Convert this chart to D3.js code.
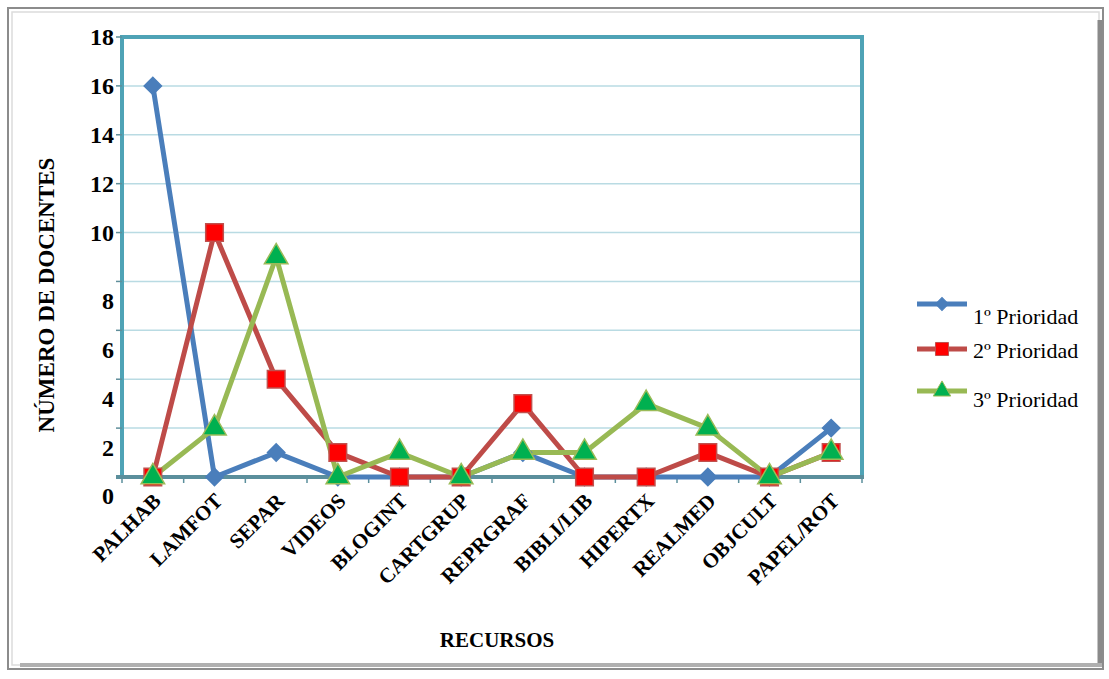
<!DOCTYPE html>
<html>
<head>
<meta charset="utf-8">
<script src="https://cdn.jsdelivr.net/npm/d3@7"></script>
<style>
  body { margin: 0; background: #fff; }
  svg { display: block; }
  text { font-family: "Liberation Serif", "DejaVu Serif", serif; }
</style>
</head>
<body>
<svg id="chart" width="1109" height="679"></svg>
<script>
// data
const categories = ["PALHAB", "LAMFOT", "SEPAR", "VIDEOS", "BLOGINT", "CARTGRUP",
  "REPRGRAF", "BIBLI/LIB", "HIPERTX", "REALMED", "OBJCULT", "PAPEL/ROT"];
const prioridad1 = [16, 0, 1, 0, 0, 0, 1, 0, 0, 0, 0, 2];
const prioridad2 = [0, 10, 4, 1, 0, 0, 3, 0, 0, 1, 0, 1];
const prioridad3 = [0, 2, 9, 0, 1, 0, 1, 1, 3, 2, 0, 1];
const seriesNames = ["1º Prioridad", "2º Prioridad", "3º Prioridad"];
const yTicks = [0, 2, 4, 6, 8, 10, 12, 14, 16, 18];

const svg = d3.select("#chart");

// outer frame
svg.append("rect").attr("x", 8).attr("y", 8).attr("width", 1095).attr("height", 661)
  .attr("fill", "#fff").attr("stroke", "#8c8c8c").attr("stroke-width", 2);
svg.append("rect").attr("x", 12).attr("y", 12).attr("width", 1087).attr("height", 653)
  .attr("fill", "none").attr("stroke", "#dcdcdc").attr("stroke-width", 1.5);
// shadow right + bottom
svg.append("line").attr("x1", 1100).attr("y1", 20).attr("x2", 1100).attr("y2", 666)
  .attr("stroke", "#8a8a8a").attr("stroke-width", 5);
svg.append("line").attr("x1", 20).attr("y1", 665).attr("x2", 1102).attr("y2", 665)
  .attr("stroke", "#b0b0b0").attr("stroke-width", 4);

const m = { left: 122, right: 862, top: 37, bottom: 477 };

const x = d3.scaleBand().domain(categories).range([m.left, m.right]);
const y = d3.scaleLinear().domain([0, 18]).range([m.bottom, m.top]);

// grid
svg.append("g").selectAll("line").data(yTicks.filter(d => d > 0 && d < 18)).join("line")
  .attr("x1", m.left).attr("x2", m.right)
  .attr("y1", d => y(d)).attr("y2", d => y(d))
  .attr("stroke", "#b9dbe3").attr("stroke-width", 1.5);

// frame of plot: left, top, right
const teal = "#4fa3b6";
svg.append("path")
  .attr("d", `M${m.left},${m.bottom}V${m.top}H${m.right}V${m.bottom}`)
  .attr("fill", "none").attr("stroke", teal).attr("stroke-width", 4);

// left ticks
svg.append("g").selectAll("line").data(yTicks).join("line")
  .attr("x1", m.left - 6).attr("x2", m.left)
  .attr("y1", d => y(d)).attr("y2", d => y(d))
  .attr("stroke", "#5f8e9a").attr("stroke-width", 1.5);

// bottom axis
svg.append("line").attr("x1", m.left - 6).attr("x2", m.right + 2)
  .attr("y1", m.bottom).attr("y2", m.bottom)
  .attr("stroke", "#5b8f9c").attr("stroke-width", 4);
const bounds = categories.map(c => x(c)).concat([m.right]);
svg.append("g").selectAll("line").data(bounds).join("line")
  .attr("x1", d => d).attr("x2", d => d)
  .attr("y1", m.bottom).attr("y2", m.bottom + 6)
  .attr("stroke", "#5b8f9c").attr("stroke-width", 1.5);

// y tick labels (lower labels sit below their grid line in the original)
svg.append("g").selectAll("text").data(yTicks).join("text")
  .attr("x", 114)
  .attr("y", d => y(d) + (d < 10 ? 19 : 0))
  .attr("dy", "0.35em")
  .attr("text-anchor", "end")
  .attr("font-size", 24).attr("font-weight", "bold")
  .text(d => d);

// category labels
const cx = c => x(c) + x.bandwidth() / 2;
svg.append("g").selectAll("text").data(categories).join("text")
  .attr("transform", d => `translate(${cx(d) + 4},${m.bottom + 20}) rotate(-45)`)
  .attr("text-anchor", "end")
  .attr("dy", "0.35em")
  .attr("font-size", 21).attr("font-weight", "bold")
  .text(d => d);

// axis titles
svg.append("text")
  .attr("transform", `translate(54,295) rotate(-90)`)
  .attr("text-anchor", "middle")
  .attr("font-size", 23).attr("font-weight", "bold")
  .text("NÚMERO DE DOCENTES");
svg.append("text")
  .attr("x", 497).attr("y", 647)
  .attr("text-anchor", "middle")
  .attr("font-size", 21).attr("font-weight", "bold")
  .text("RECURSOS");

// series
const series = [
  { name: seriesNames[0], values: prioridad1, line: "#4a7ebb", fill: "#4a7ebb", stroke: "#4a7ebb", shape: d3.symbolSquare, rot: 45, size: 150 },
  { name: seriesNames[1], values: prioridad2, line: "#be4b48", fill: "#ff0000", stroke: "#c0504d", shape: d3.symbolSquare, rot: 0, size: 310 },
  { name: seriesNames[2], values: prioridad3, line: "#98b954", fill: "#00b050", stroke: "#9bbb59", shape: d3.symbolTriangle, rot: 0, size: 240 }
];
const lineGen = d3.line().x((d, i) => cx(categories[i])).y(d => y(d));

series.forEach(s => {
  svg.append("path").datum(s.values)
    .attr("d", lineGen)
    .attr("fill", "none").attr("stroke", s.line).attr("stroke-width", 5)
    .attr("stroke-linejoin", "round");
});
series.forEach(s => {
  const sym = d3.symbol().type(s.shape).size(s.size);
  svg.append("g").selectAll("path").data(s.values).join("path")
    .attr("transform", (d, i) => `translate(${cx(categories[i])},${y(d)}) rotate(${s.rot})`)
    .attr("d", sym)
    .attr("fill", s.fill).attr("stroke", s.stroke).attr("stroke-width", 1.5);
});

// legend
const legY = [304, 349, 391];
const legTextY = [316, 350, 399];
series.forEach((s, i) => {
  const g = svg.append("g");
  g.append("line").attr("x1", 917).attr("x2", 967)
    .attr("y1", legY[i]).attr("y2", legY[i])
    .attr("stroke", s.line).attr("stroke-width", 5);
  g.append("path")
    .attr("transform", `translate(942,${legY[i]}) rotate(${s.rot})`)
    .attr("d", d3.symbol().type(s.shape).size(s.size * 0.55))
    .attr("fill", s.fill).attr("stroke", s.stroke).attr("stroke-width", 1);
  g.append("text").attr("x", 973).attr("y", legTextY[i]).attr("dy", "0.35em")
    .attr("font-size", 22).text(s.name);
});
</script>
</body>
</html>
